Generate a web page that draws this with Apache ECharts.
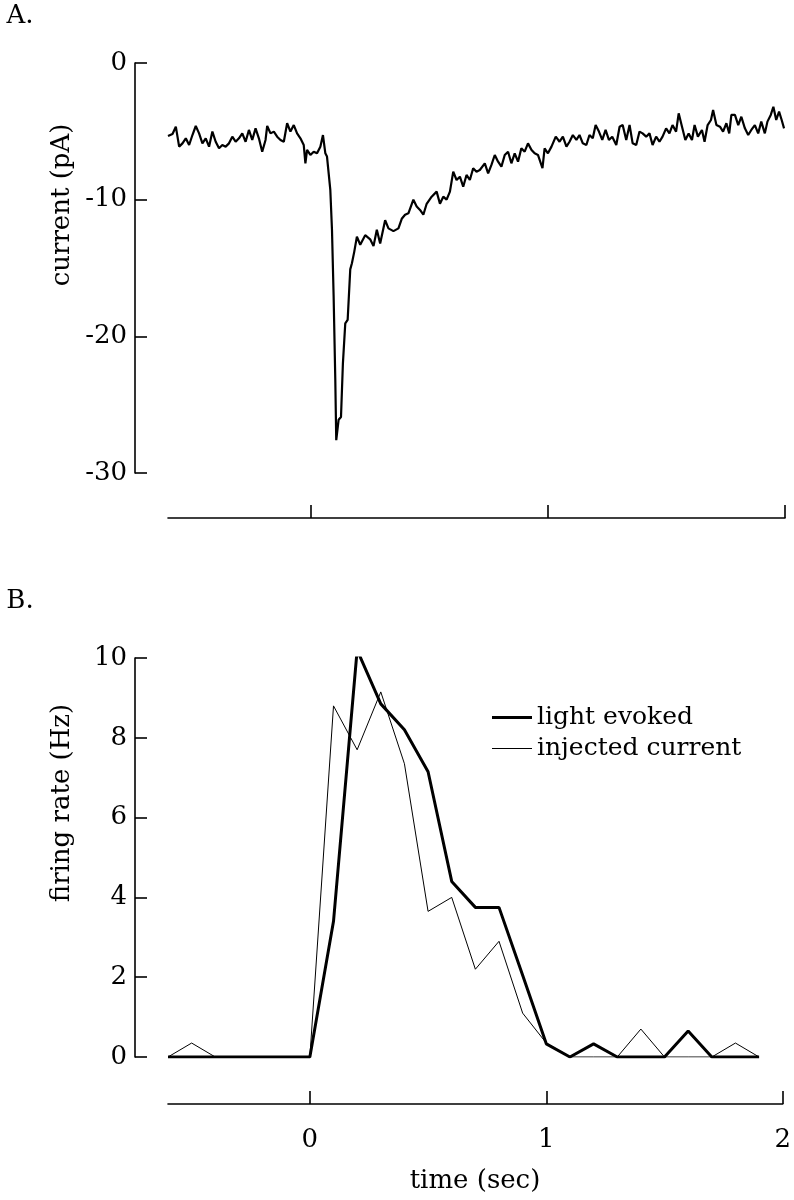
<!DOCTYPE html>
<html>
<head>
<meta charset="utf-8">
<script src="https://cdn.jsdelivr.net/npm/echarts@6/dist/echarts.min.js"></script>
<style>
  html, body { margin: 0; padding: 0; background: #fff; }
  #main { width: 794px; height: 1200px; }
</style>
</head>
<body>
<div id="main"></div>
<script>
// panel A: whole-cell current trace (time in sec, current in pA)
const traceTime = [
  -0.600, -0.581, -0.567, -0.553, -0.539, -0.525, -0.511, -0.497, -0.483, -0.469,
  -0.455, -0.441, -0.427, -0.413, -0.399, -0.385, -0.371, -0.357, -0.343, -0.329,
  -0.315, -0.301, -0.287, -0.273, -0.259, -0.245, -0.231, -0.217, -0.203, -0.189,
  -0.182, -0.168, -0.154, -0.140, -0.126, -0.112, -0.098, -0.084, -0.070, -0.056,
  -0.042, -0.028, -0.021, -0.014, 0.000, 0.014, 0.028, 0.042, 0.053, 0.063,
  0.070, 0.084, 0.091, 0.098, 0.105, 0.109, 0.119, 0.129, 0.137, 0.147,
  0.157, 0.168, 0.175, 0.185, 0.196, 0.210, 0.231, 0.252, 0.266, 0.280,
  0.294, 0.315, 0.329, 0.350, 0.371, 0.385, 0.399, 0.413, 0.434, 0.448,
  0.462, 0.476, 0.490, 0.511, 0.532, 0.546, 0.560, 0.574, 0.588, 0.602,
  0.616, 0.630, 0.644, 0.658, 0.672, 0.686, 0.700, 0.714, 0.735, 0.749,
  0.763, 0.777, 0.791, 0.805, 0.819, 0.833, 0.847, 0.861, 0.875, 0.889,
  0.903, 0.917, 0.932, 0.945, 0.959, 0.978, 0.987, 1.001, 1.016, 1.034,
  1.050, 1.064, 1.079, 1.092, 1.106, 1.121, 1.134, 1.148, 1.163, 1.176,
  1.190, 1.202, 1.216, 1.230, 1.244, 1.258, 1.272, 1.289, 1.303, 1.316,
  1.331, 1.345, 1.358, 1.373, 1.387, 1.400, 1.415, 1.429, 1.442, 1.457,
  1.471, 1.484, 1.499, 1.513, 1.526, 1.541, 1.552, 1.566, 1.580, 1.594,
  1.608, 1.619, 1.633, 1.650, 1.661, 1.674, 1.688, 1.697, 1.711, 1.726,
  1.739, 1.753, 1.765, 1.774, 1.789, 1.803, 1.816, 1.831, 1.845, 1.858,
  1.873, 1.887, 1.900, 1.915, 1.926, 1.940, 1.951, 1.963, 1.975, 1.986,
  1.996
];
const traceCurrent = [
  -5.34, -5.19, -4.66, -6.12, -5.88, -5.51, -6.00, -5.27, -4.61, -5.15,
  -5.88, -5.51, -6.12, -5.02, -5.76, -6.24, -6.00, -6.12, -5.88, -5.39,
  -5.76, -5.51, -5.15, -5.76, -4.90, -5.63, -4.78, -5.51, -6.49, -5.63,
  -4.61, -5.15, -5.02, -5.39, -5.63, -5.76, -4.41, -5.02, -4.54, -5.15,
  -5.51, -6.00, -7.34, -6.36, -6.73, -6.49, -6.61, -6.12, -5.27, -6.61,
  -6.85, -9.29, -12.2, -17.1, -23.2, -27.6, -26.1, -25.9, -22.0, -19.05,
  -18.8, -15.1, -14.65, -13.8, -12.7, -13.3, -12.6, -12.9, -13.4, -12.2,
  -13.2, -11.5, -12.1, -12.3, -12.1, -11.4, -11.1, -11.0, -10.0, -10.5,
  -10.75, -11.1, -10.3, -9.78, -9.41, -10.3, -9.78, -10.0, -9.41, -7.95,
  -8.56, -8.32, -9.05, -8.19, -8.56, -7.70, -7.95, -7.83, -7.34, -8.07,
  -7.46, -6.73, -7.22, -7.58, -6.73, -6.49, -7.34, -6.61, -7.22, -6.24,
  -6.49, -5.88, -6.36, -6.61, -6.73, -7.70, -6.24, -6.61, -6.12, -5.39,
  -5.76, -5.39, -6.12, -5.76, -5.27, -5.63, -5.27, -5.88, -6.00, -5.27,
  -5.51, -4.54, -5.02, -5.63, -4.90, -5.63, -5.39, -6.00, -4.66, -4.54,
  -5.63, -4.54, -5.88, -6.00, -5.02, -5.15, -5.39, -5.15, -6.00, -5.39,
  -5.76, -5.39, -4.78, -5.15, -4.54, -5.02, -3.68, -4.66, -5.63, -5.15,
  -5.63, -4.54, -5.39, -4.90, -5.76, -4.54, -4.17, -3.44, -4.54, -4.66,
  -5.02, -4.41, -5.15, -3.80, -3.80, -4.54, -3.93, -4.78, -5.27, -4.90,
  -4.54, -5.15, -4.29, -5.15, -4.29, -3.80, -3.20, -4.17, -3.56, -4.17,
  -4.78
];

// panel B: firing rate in 100 ms bins
const binTime = [
  -0.6, -0.5, -0.4, -0.3, -0.2, -0.1, 0.0, 0.1, 0.2, 0.3, 0.4, 0.5, 0.6,
  0.7, 0.8, 0.9, 1.0, 1.1, 1.2, 1.3, 1.4, 1.5, 1.6, 1.7, 1.8, 1.9
];
const lightEvoked = [
  0, 0, 0, 0, 0, 0, 0, 3.4, 10.2, 8.85, 8.2, 7.15, 4.4,
  3.75, 3.75, 2.05, 0.33, 0, 0.33, 0, 0, 0, 0.65, 0, 0, 0
];
const injectedCurrent = [
  0, 0.35, 0, 0, 0, 0, 0, 8.8, 7.7, 9.15, 7.35, 3.65, 4.0,
  2.2, 2.9, 1.1, 0.35, 0, 0, 0, 0.7, 0, 0, 0, 0.35, 0
];

const timeTicks = [0, 1, 2];

const FONT = 'DejaVu Serif';
const FS = 26;

function pairs(xs, ys) {
  return xs.map((x, i) => [x, ys[i]]);
}

function timeAxis(gridIndex, offset, showLabels) {
  return {
    type: 'value',
    gridIndex: gridIndex,
    position: 'bottom',
    min: -0.6,
    max: 2,
    offset: offset,
    axisLine: { show: true, onZero: false, lineStyle: { color: '#000', width: 1.6 } },
    axisTick: {
      show: true, inside: true, length: 13, customValues: timeTicks,
      lineStyle: { color: '#000', width: 1.6 }
    },
    axisLabel: {
      show: showLabels, customValues: timeTicks, margin: 23,
      color: '#000', fontFamily: FONT, fontSize: FS
    },
    splitLine: { show: false }
  };
}

function valueAxis(gridIndex, min, max, interval) {
  return {
    type: 'value',
    gridIndex: gridIndex,
    position: 'left',
    min: min,
    max: max,
    interval: interval,
    offset: 33,
    axisLine: { show: true, onZero: false, lineStyle: { color: '#000', width: 1.6 } },
    axisTick: { show: true, inside: true, length: 12, lineStyle: { color: '#000', width: 1.6 } },
    axisLabel: { margin: 8, color: '#000', fontFamily: FONT, fontSize: FS },
    splitLine: { show: false }
  };
}

function label(text, x, y, rotate, size) {
  return {
    type: 'text',
    x: x,
    y: y,
    rotation: rotate ? Math.PI / 2 : 0,
    style: {
      text: text,
      fill: '#000',
      font: (size || FS) + 'px "' + FONT + '"',
      textAlign: 'center',
      textVerticalAlign: 'middle'
    }
  };
}

const chart = echarts.init(document.getElementById('main'), null, { renderer: 'canvas' });

chart.setOption({
  animation: false,
  backgroundColor: '#fff',
  grid: [
    { left: 168, right: 9, top: 63, height: 410 },
    { left: 168, right: 9, top: 658, height: 399 }
  ],
  xAxis: [timeAxis(0, 45, false), timeAxis(1, 47, true)],
  yAxis: [valueAxis(0, -30, 0, 10), valueAxis(1, 0, 10, 2)],
  legend: {
    data: [
      { name: 'light evoked', icon: 'path://M0 0H40V3H0Z' },
      { name: 'injected current', icon: 'path://M0 0H40V1H0Z' }
    ],
    orient: 'vertical',
    left: 487,
    top: 700,
    itemWidth: 40,
    itemHeight: 14,
    itemGap: 6,
    symbolKeepAspect: true,
    textStyle: { color: '#000', fontFamily: FONT, fontSize: 25 }
  },
  graphic: [
    label('A.', 20, 16, false),
    label('B.', 20, 601, false),
    label('current (pA)', 62, 205, true),
    label('firing rate (Hz)', 62, 803, true),
    label('time (sec)', 475, 1181, false)
  ],
  series: [
    {
      name: 'current',
      type: 'line',
      xAxisIndex: 0,
      yAxisIndex: 0,
      data: pairs(traceTime, traceCurrent),
      symbol: 'none',
      lineStyle: { color: '#000', width: 2.2 }
    },
    {
      name: 'light evoked',
      type: 'line',
      xAxisIndex: 1,
      yAxisIndex: 1,
      data: pairs(binTime, lightEvoked),
      symbol: 'none',
      itemStyle: { color: '#000' },
      lineStyle: { color: '#000', width: 3 }
    },
    {
      name: 'injected current',
      type: 'line',
      xAxisIndex: 1,
      yAxisIndex: 1,
      data: pairs(binTime, injectedCurrent),
      symbol: 'none',
      itemStyle: { color: '#000' },
      lineStyle: { color: '#000', width: 1 }
    }
  ]
});
</script>
</body>
</html>
